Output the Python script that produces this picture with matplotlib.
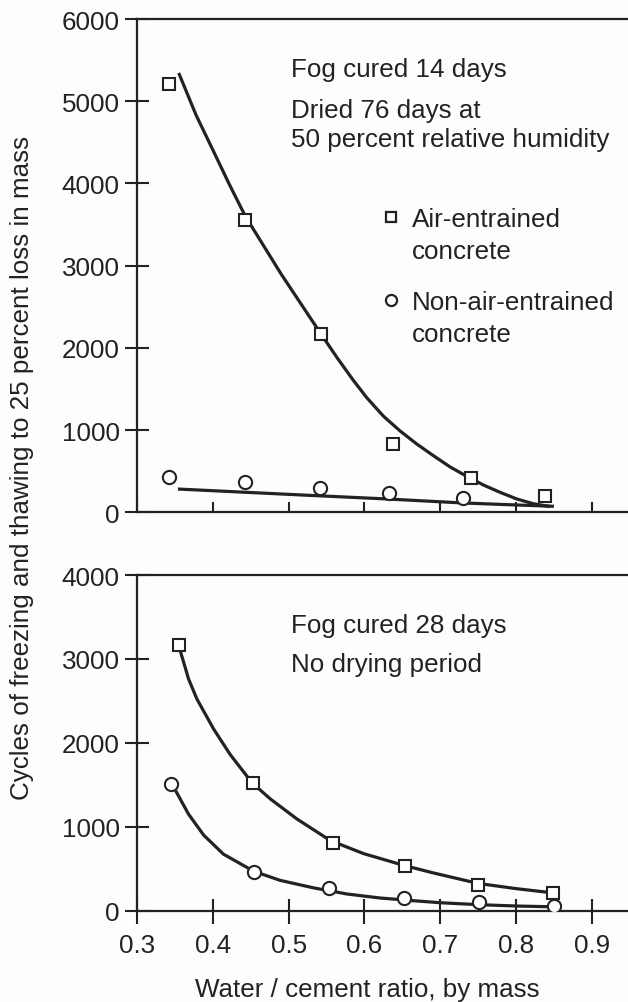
import matplotlib
matplotlib.use("Agg")
import matplotlib.pyplot as plt

plt.rcParams['font.family'] = ['Liberation Sans', 'DejaVu Sans']

# ---- Top panel data (fog cured 14 days, dried 76 days) ----
top_sq_x = [0.342, 0.442, 0.543, 0.638, 0.740, 0.838]
top_sq_y = [5215, 3550, 2165, 826, 413, 194]
top_ci_x = [0.342, 0.442, 0.541, 0.632, 0.730]
top_ci_y = [425, 365, 292, 231, 170]
top_sq_curve_x = [0.355, 0.378, 0.401, 0.422, 0.443, 0.49, 0.543, 0.564, 0.585, 0.603,
                  0.625, 0.647, 0.669, 0.691, 0.713, 0.735, 0.757, 0.779, 0.801, 0.823, 0.845]
top_sq_curve_y = [5344, 4830, 4390, 3985, 3600, 2900, 2165, 1880, 1610, 1395,
                  1170, 990, 831, 689, 552, 438, 332, 243, 162, 104, 70]
top_ci_curve_x = [0.354, 0.537, 0.630, 0.731, 0.801, 0.850]
top_ci_curve_y = [283, 202, 162, 113, 89, 73]

# ---- Bottom panel data (fog cured 28 days, no drying) ----
bot_sq_x = [0.355, 0.453, 0.558, 0.654, 0.750, 0.849]
bot_sq_y = [3170, 1521, 802, 527, 311, 215]
bot_ci_x = [0.345, 0.454, 0.553, 0.652, 0.751, 0.850]
bot_ci_y = [1510, 467, 275, 156, 108, 60]
bot_sq_curve_x = [0.357, 0.368, 0.379, 0.401, 0.423, 0.452, 0.476, 0.511, 0.555, 0.599,
                  0.652, 0.691, 0.750, 0.801, 0.849]
bot_sq_curve_y = [3099, 2762, 2523, 2166, 1860, 1522, 1331, 1093, 836, 680,
                  540, 450, 325, 262, 212]
bot_ci_curve_x = [0.351, 0.368, 0.388, 0.414, 0.454, 0.489, 0.533, 0.577, 0.621, 0.665,
                  0.70, 0.75, 0.80, 0.85]
bot_ci_curve_y = [1430, 1150, 900, 674, 470, 361, 272, 199, 151, 119,
                  95, 72, 56, 46]

x_ticks = [0.3, 0.4, 0.5, 0.6, 0.7, 0.8, 0.9]
x_labels = ['0.3', '0.4', '0.5', '0.6', '0.7', '0.8', '0.9']
top_yticks = [0, 1000, 2000, 3000, 4000, 5000, 6000]
bot_yticks = [0, 1000, 2000, 3000, 4000]

W, H = 628, 1003
fig = plt.figure(figsize=(W / 100, H / 100), dpi=100)
fig.patch.set_facecolor('#fdfdfd')

x0px = 137.0
left = x0px / W
xmax = 0.3 + (W - x0px) / 758.0
ax1 = fig.add_axes([left, 1 - 513.3 / H, 1 - left, (513.3 - 20) / H])
ax2 = fig.add_axes([left, 1 - 911.7 / H, 1 - left, (911.7 - 576) / H])

lc = '#222222'
fs = 18.7
for ax, yt, ymax in ((ax1, top_yticks, 6000), (ax2, bot_yticks, 4000)):
    ax.set_xlim(0.3, xmax)
    ax.set_ylim(0, ymax)
    ax.set_yticks(yt)
    ax.set_yticklabels([str(v) for v in yt])
    ax.set_xticks(x_ticks)
    ax.spines['right'].set_visible(False)
    for s in ('left', 'bottom', 'top'):
        ax.spines[s].set_linewidth(1.6)
        ax.spines[s].set_color(lc)
    ax.tick_params(axis='y', direction='inout', length=17, width=1.5, labelsize=fs,
                   colors=lc, pad=4)
    ax.set_facecolor('none')

ax1.tick_params(axis='x', direction='in', length=7, width=1.5, labelbottom=False, colors=lc)
ax2.tick_params(axis='x', direction='inout', length=18, width=1.5, labelsize=fs, colors=lc, pad=7)
ax2.set_xticklabels(x_labels)

lw = 2.3
mk = dict(linestyle='none', markerfacecolor='white', markeredgecolor=lc,
          markeredgewidth=1.5, zorder=3)
line_kw = dict(color=lc, lw=lw, solid_capstyle='butt', solid_joinstyle='round', zorder=2)
ax1.plot(top_sq_curve_x, top_sq_curve_y, **line_kw)
ax1.plot(top_ci_curve_x, top_ci_curve_y, **line_kw)
ax1.plot(top_sq_x, top_sq_y, marker='s', markersize=8.3, **mk)
ax1.plot(top_ci_x, top_ci_y, marker='o', markersize=9.5, **mk)

ax2.plot(bot_sq_curve_x, bot_sq_curve_y, **line_kw)
ax2.plot(bot_ci_curve_x, bot_ci_curve_y, **line_kw)
ax2.plot(bot_sq_x, bot_sq_y, marker='s', markersize=8.3, **mk)
ax2.plot(bot_ci_x, bot_ci_y, marker='o', markersize=9.5, **mk)

# annotations (baseline positions in pixels)
def ftext(px, py, s, **kw):
    fig.text(px / W, 1 - py / H, s, fontsize=fs, color=lc, va='baseline', **kw)

ftext(291, 77, 'Fog cured 14 days')
ftext(291, 118, 'Dried 76 days at')
ftext(291, 147, '50 percent relative humidity')
ftext(412, 227, 'Air-entrained')
ftext(412, 259, 'concrete')
ftext(412, 310, 'Non-air-entrained')
ftext(412, 342, 'concrete')
ftext(291, 633, 'Fog cured 28 days')
ftext(291, 672, 'No drying period')

# legend symbols
fig.lines.append(plt.Line2D([391 / W], [1 - 218 / H], marker='s', markersize=7,
                            markerfacecolor='white', markeredgecolor=lc,
                            markeredgewidth=1.6, transform=fig.transFigure))
fig.lines.append(plt.Line2D([391 / W], [1 - 301 / H], marker='o', markersize=8,
                            markerfacecolor='white', markeredgecolor=lc,
                            markeredgewidth=1.6, transform=fig.transFigure))

fig.text(22 / W, 1 - 468 / H, 'Cycles of freezing and thawing to 25 percent loss in mass',
         rotation=90, fontsize=fs, color=lc, ha='center', va='center')
fig.text(367 / W, 1 - 990 / H, 'Water / cement ratio, by mass', fontsize=fs, color=lc,
         ha='center', va='center')

fig.savefig('out.png', dpi=100, facecolor=fig.get_facecolor())
